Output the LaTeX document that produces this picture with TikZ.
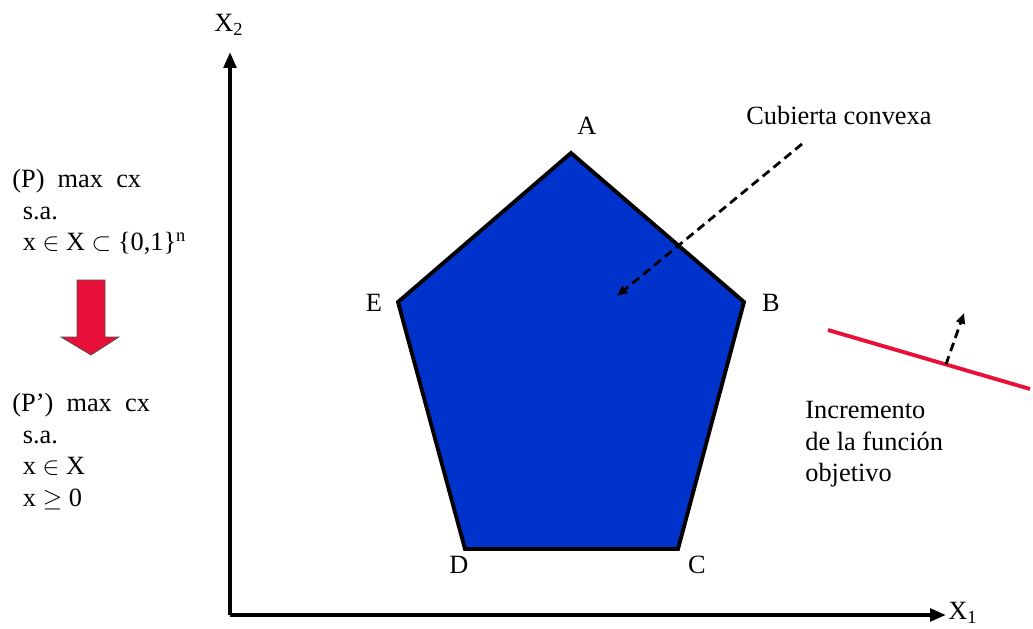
\documentclass[tikz,border=0pt]{standalone}
\usepackage{fontspec}
\setmainfont{Liberation Serif}
\usepackage{tikz}
\usetikzlibrary{arrows.meta, calc}
\definecolor{hullblue}{RGB}{0,51,204}
\definecolor{objred}{RGB}{232,16,56}
\tikzset{
  lbl/.style={font=\fontsize{15}{18}\selectfont, inner sep=0pt},
  txtblock/.style={font=\fontsize{15}{18}\selectfont, inner sep=0pt, align=left, anchor=north west},
  axis/.style={-{Triangle[length=9pt, width=7pt]}, line width=2.2pt, color=black},
  dasharrow/.style={-{Triangle[length=6pt, width=5pt]}, line width=1.6pt, dash pattern=on 5pt off 3pt},
  hull/.style={draw=black, fill=hullblue, line width=2.2pt, line join=miter},
  objline/.style={draw=objred, line width=2.2pt}
}
\begin{document}
\begin{tikzpicture}[x=0.02cm, y=-0.02cm]
  \useasboundingbox (0,0) rectangle (1033,628);

  % Axes
  \coordinate (O) at (230,615);
  \coordinate (xend) at (946,615);
  \coordinate (yend) at (230,52);
  \draw[axis] (O) -- (xend);
  \draw[axis] (O) -- (yend);
  \node[lbl] (x1) at (963,613) {X\textsubscript{1}};
  \node[lbl] (x2) at (229,25) {X\textsubscript{2}};

  % Convex hull
  \coordinate (A) at (571,153);
  \coordinate (B) at (744,302);
  \coordinate (C) at (678,549);
  \coordinate (D) at (465,549);
  \coordinate (E) at (398,302);
  \filldraw[hull] (A) -- (B) -- (C) -- (D) -- (E) -- cycle;
  \node[lbl] (la) at (587,126) {A};
  \node[lbl] (lb) at (771,303) {B};
  \node[lbl] (lc) at (697,565) {C};
  \node[lbl] (ld) at (459,565) {D};
  \node[lbl] (le) at (374,303) {E};

  % Hull pointer
  \node[lbl, anchor=base west] (hull) at (746,125) {Cubierta convexa};
  \coordinate (hullfrom) at (802,144);
  \coordinate (hullto) at (617,296);
  \draw[dasharrow] (hullfrom) -- (hullto);

  % Objective function
  \coordinate (objL) at (828,330);
  \coordinate (objR) at (1030,389);
  \coordinate (objM) at ($(objL)!0.584!(objR)$);
  \coordinate (objdir) at (964,313);
  \draw[objline] (objL) -- (objR);
  \draw[dasharrow] (objM) -- (objdir);
  \node[txtblock] (incr) at (805,401) {Incremento\\de la función\\objetivo};

  % Problems
  \node[txtblock] (prob) at (12,169) {(P)\ \ max\ \ cx\\\hspace*{6pt}s.a.\\\hspace*{6pt}x $\in$ X $\subset$ \{0,1\}\textsuperscript{n}};
  \filldraw[fill=objred, draw=black!70, line width=0.4pt]
    (77,280) -- (105,280) -- (105,337) -- (119,337) -- (91,355) -- (61,337) -- (77,337) -- cycle;
  \node[txtblock] (relax) at (12,393) {(P')\ \ max\ \ cx\\\hspace*{6pt}s.a.\\\hspace*{6pt}x $\in$ X\\\hspace*{6pt}x $\geq$ 0};
\end{tikzpicture}
\end{document}
